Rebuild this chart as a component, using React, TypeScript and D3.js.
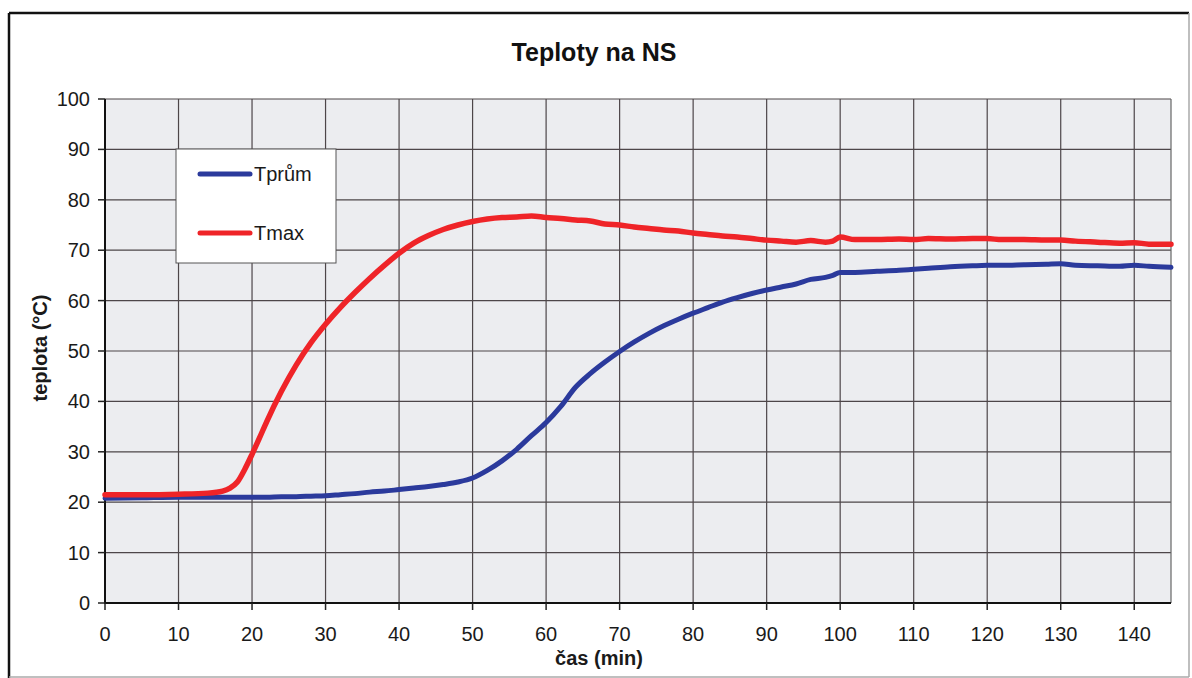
import React from "react";
import * as d3 from "d3";

const title = "Teploty na NS";
const xLabel = "čas (min)";
const yLabel = "teplota (°C)";
const seriesNames = ["Tprům", "Tmax"];
const seriesColors = ["#2b3a9c", "#ef2428"];

const xTicks = [0, 10, 20, 30, 40, 50, 60, 70, 80, 90, 100, 110, 120, 130, 140];
const yTicks = [0, 10, 20, 30, 40, 50, 60, 70, 80, 90, 100];

const time = [
  0, 5, 10, 14, 16, 17, 18, 19, 20, 21, 22, 24, 26, 28, 30, 32, 34, 36, 38, 40,
  42, 44, 46, 48, 50, 52, 54, 56, 58, 60, 62, 64, 66, 68, 70, 72, 74, 76, 78, 80,
  82, 84, 86, 88, 90, 92, 94, 96, 98, 99, 100, 102, 105, 108, 110, 112, 115, 118,
  120, 122, 125, 128, 130, 132, 135, 138, 140, 142, 145,
];

const tPrum = [
  20.8, 20.9, 21.0, 21.0, 21.0, 21.0, 21.0, 21.0, 21.0, 21.0, 21.0, 21.1, 21.1, 21.2,
  21.3, 21.5, 21.7, 22.0, 22.2, 22.5, 22.8, 23.1, 23.5, 24.0, 24.8, 26.3, 28.2, 30.5,
  33.2, 35.8, 39.0, 42.8, 45.5, 47.8, 49.9, 51.8, 53.5, 55.0, 56.3, 57.5, 58.6, 59.7,
  60.6, 61.4, 62.1, 62.7, 63.3, 64.2, 64.6, 65.0, 65.6, 65.6, 65.8, 66.0, 66.2, 66.4,
  66.7, 66.9, 67.0, 67.0, 67.1, 67.2, 67.3, 67.0, 66.9, 66.8, 67.0, 66.8, 66.6,
];

const tMax = [
  21.5, 21.5, 21.6, 21.8, 22.2, 22.8, 24.0, 26.5, 29.5, 32.7, 36.0, 42.0, 47.2, 51.6,
  55.3, 58.6, 61.6, 64.4, 67.0, 69.4, 71.4, 72.9, 74.1, 75.0, 75.7, 76.2, 76.5, 76.6,
  76.8, 76.5, 76.3, 76.0, 75.8, 75.2, 75.0, 74.6, 74.3, 74.0, 73.8, 73.4, 73.1, 72.8,
  72.6, 72.3, 72.0, 71.8, 71.6, 71.9, 71.6, 71.8, 72.6, 72.1, 72.1, 72.2, 72.1, 72.3,
  72.2, 72.3, 72.3, 72.1, 72.1, 72.0, 72.0, 71.8, 71.6, 71.4, 71.5, 71.2, 71.2,
];

const W = 1192;
const H = 678;
const left = 105;
const right = 1171;
const top = 99;
const bottom = 603;
const FONT = "'Liberation Sans', Arial, sans-serif";

export default function App() {
  const x = d3.scaleLinear().domain([0, 145]).range([left, right]);
  const y = d3.scaleLinear().domain([0, 100]).range([bottom, top]);
  const line = d3
    .line<number>()
    .x((_, i) => x(time[i]))
    .y((v) => y(v))
    .curve(d3.curveMonotoneX);
  const series = [tPrum, tMax];

  return (
    <svg
      width={W}
      height={H}
      style={{ position: "absolute", left: 0, top: 0, background: "#fff" }}
      fontFamily={FONT}
    >
      {/* outer frame */}
      <line x1={9} y1={13} x2={1189} y2={13} stroke="#111" strokeWidth={2.5} />
      <line x1={9} y1={13} x2={9} y2={678} stroke="#111" strokeWidth={2.5} />
      <line x1={1189} y1={13} x2={1189} y2={677} stroke="#aaa" strokeWidth={1.5} />
      <line x1={9} y1={677} x2={1189} y2={677} stroke="#aaa" strokeWidth={1.5} />

      <text x={594} y={61} textAnchor="middle" fontSize={25} fontWeight="bold" fill="#111">
        {title}
      </text>

      {/* plot area */}
      <rect x={left} y={top} width={right - left} height={bottom - top} fill="#ecedf0" />
      {yTicks.map((v) => (
        <line key={"gy" + v} x1={left} x2={right} y1={y(v)} y2={y(v)} stroke="#4d4649" strokeWidth={1.2} />
      ))}
      {xTicks.map((v) => (
        <line key={"gx" + v} x1={x(v)} x2={x(v)} y1={top} y2={bottom} stroke="#4d4649" strokeWidth={1.2} />
      ))}
      <line x1={right} x2={right} y1={top} y2={bottom} stroke="#666" strokeWidth={1.2} />
      <line x1={left} x2={left} y1={top} y2={bottom + 1} stroke="#111" strokeWidth={2} />
      <line x1={left - 1} x2={right} y1={bottom} y2={bottom} stroke="#111" strokeWidth={2} />

      {/* ticks */}
      {yTicks.map((v) => (
        <g key={"ty" + v}>
          <line x1={left - 7} x2={left} y1={y(v)} y2={y(v)} stroke="#222" strokeWidth={1.5} />
          <text x={left - 15} y={y(v) + 7} textAnchor="end" fontSize={20} fill="#1a1a1a">
            {v}
          </text>
        </g>
      ))}
      {xTicks.map((v) => (
        <g key={"tx" + v}>
          <line x1={x(v)} x2={x(v)} y1={bottom} y2={bottom + 7} stroke="#222" strokeWidth={1.5} />
          <text x={x(v)} y={641} textAnchor="middle" fontSize={20} fill="#1a1a1a">
            {v}
          </text>
        </g>
      ))}

      {/* axis titles */}
      <text x={599} y={665} textAnchor="middle" fontSize={20} fontWeight="bold" fill="#1a1a1a">
        {xLabel}
      </text>
      <text
        transform="translate(47,348) rotate(-90)"
        textAnchor="middle"
        fontSize={20}
        fontWeight="bold"
        fill="#1a1a1a"
      >
        {yLabel}
      </text>

      {/* series */}
      {series.map((s, i) => (
        <path
          key={"s" + i}
          d={line(s) || ""}
          fill="none"
          stroke={seriesColors[i]}
          strokeWidth={i === 1 ? 5.5 : 5}
          strokeLinejoin="round"
          strokeLinecap="round"
        />
      ))}

      {/* legend */}
      <rect x={176} y={149} width={160} height={114} fill="#fff" stroke="#555" strokeWidth={1} />
      {seriesNames.map((n, i) => (
        <g key={"lg" + i}>
          <line
            x1={200}
            x2={250}
            y1={174 + i * 59}
            y2={174 + i * 59}
            stroke={seriesColors[i]}
            strokeWidth={5}
            strokeLinecap="round"
          />
          <text x={254} y={174 + i * 59 + 7} fontSize={20} fill="#1a1a1a">
            {n}
          </text>
        </g>
      ))}
    </svg>
  );
}
